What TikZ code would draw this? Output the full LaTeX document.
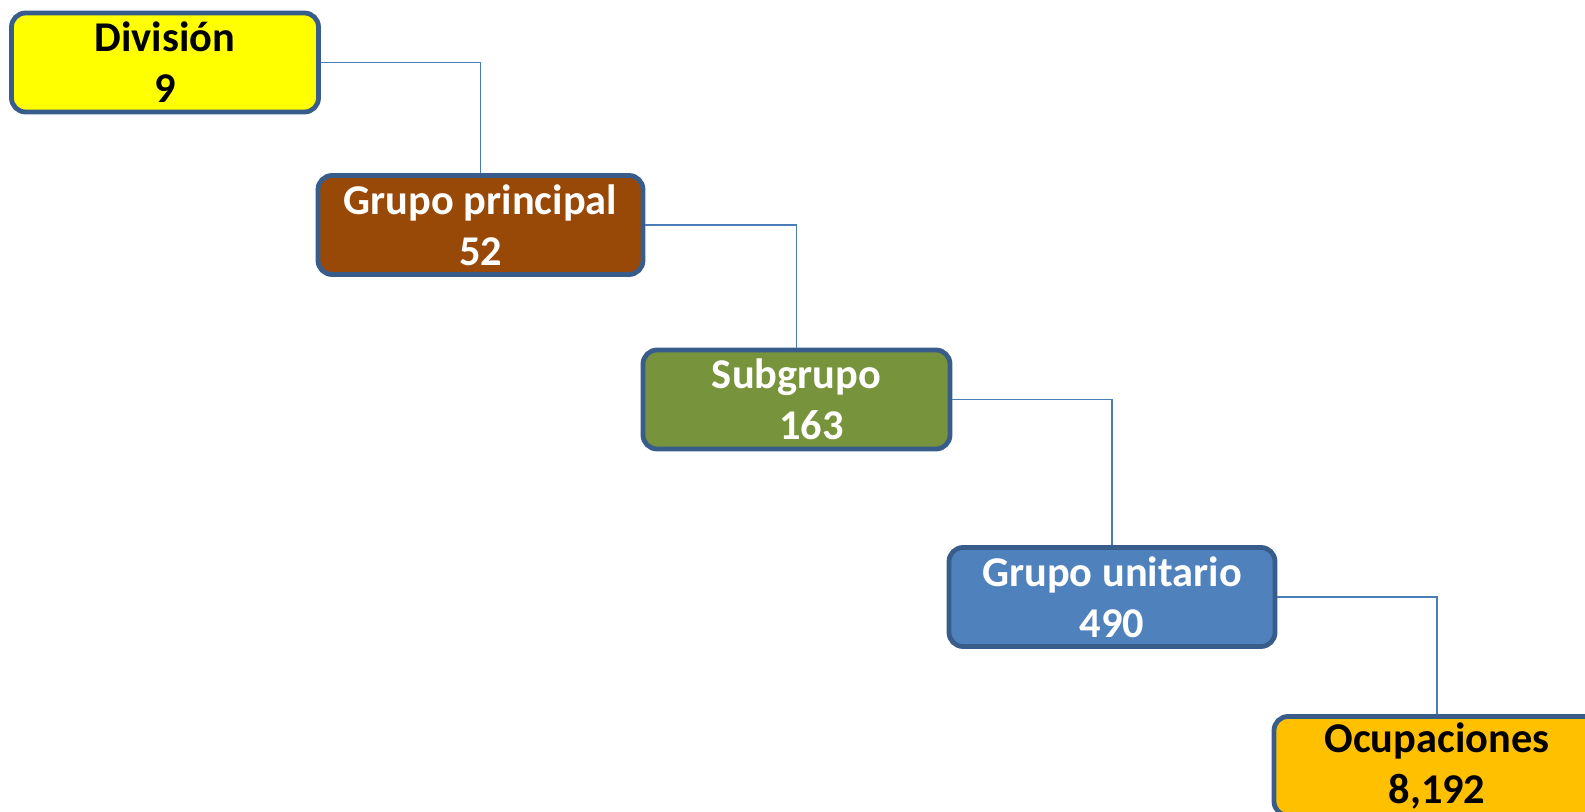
\documentclass[tikz,border=0pt]{standalone}
\usepackage{fontspec}
\setmainfont{Carlito}
\definecolor{divyellow}{HTML}{FFFF00}
\definecolor{gpbrown}{HTML}{984807}
\definecolor{sgreen}{HTML}{77933C}
\definecolor{gublue}{HTML}{4F81BD}
\definecolor{ocorange}{HTML}{FFC000}
\definecolor{boxedge}{HTML}{385D8A}
\definecolor{linkblue}{HTML}{4A7EBB}
\begin{document}
\begin{tikzpicture}[x=0.5pt,y=-0.5pt,
    levelbox/.style ={rectangle, rounded corners=7pt, draw=boxedge, line width=2.4pt,
      minimum height=49.5pt, inner sep=0pt, align=center,
      font=\fontsize{21.2}{25.5}\selectfont\bfseries},
    link/.style ={draw=linkblue, line width=0.75pt}]
   \node[levelbox, fill=divyellow, minimum width=153.5pt] (div) at (165,62.5) {Divisi\'on\\9};
   \node[levelbox, fill=gpbrown, text=white, minimum width=162.5pt] (gp) at (480.5,225) {Grupo principal\\52};
   \node[levelbox, fill=sgreen, text=white, minimum width=153.5pt] (sub) at (796.5,399.5) {Subgrupo\\\hspace*{0.7em}163};
   \node[levelbox, fill=gublue, text=white, minimum width=163pt] (gu) at (1112,597) {Grupo unitario\\490};
   \node[levelbox, fill=ocorange, minimum width=163pt] (ocu) at (1437,766) {Ocupaciones\\8,192};
   \draw[link] (div.east) -| (gp.north);
   \draw[link] (gp.east) -| (sub.north);
   \draw[link] (sub.east) -| (gu.north);
   \draw[link] (gu.east) -| (ocu.north);
   \pgfresetboundingbox
   \useasboundingbox (0,0) rectangle (1585,812);
 \end{tikzpicture}
\end{document}
